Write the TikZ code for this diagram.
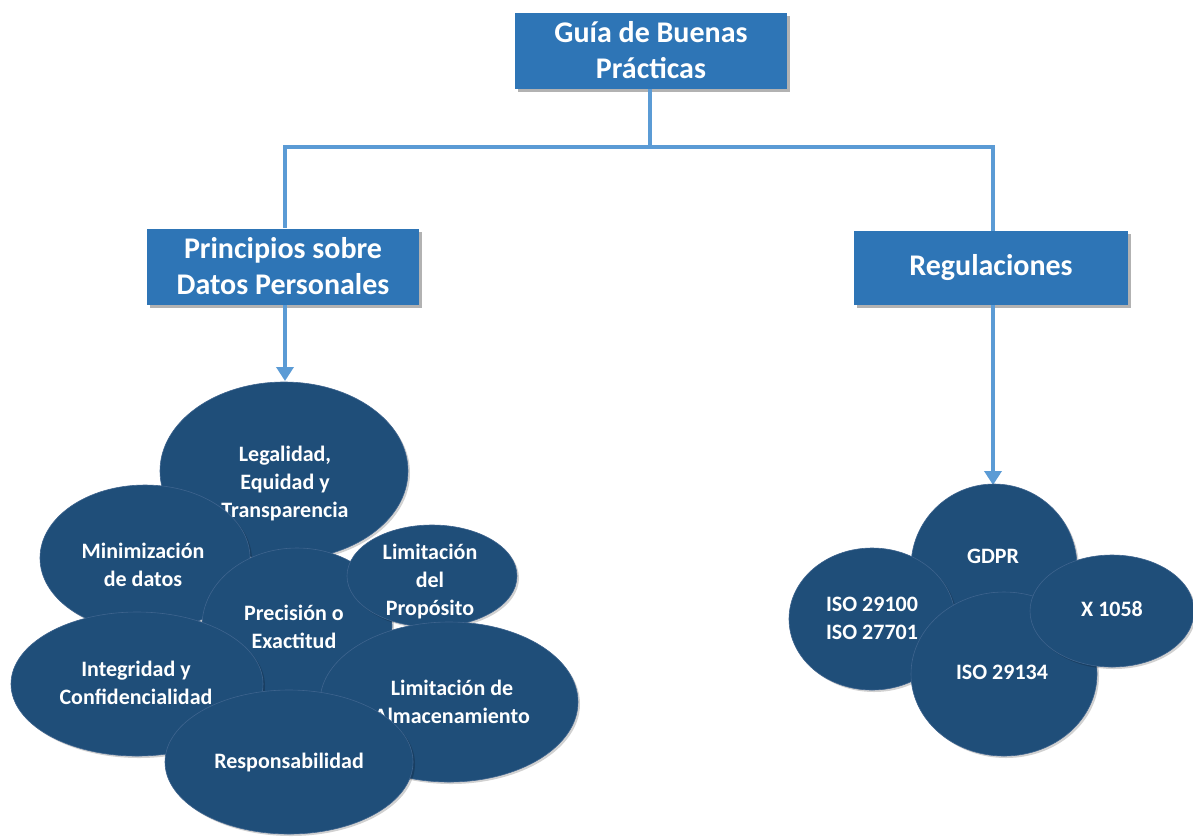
\documentclass[tikz,border=0pt]{standalone}
\usepackage{fontspec}
\setmainfont{Carlito}
\usetikzlibrary{shapes.geometric,arrows.meta,shadows}
\definecolor{boxblue}{RGB}{46,117,182}
\definecolor{linkblue}{RGB}{91,155,213}
\definecolor{navy}{RGB}{31,78,121}
\definecolor{navyedge}{RGB}{62,100,142}
\begin{document}
\begin{tikzpicture}[x=1pt,y=-1pt,
  hbox/.style={fill=boxblue, minimum width=272pt, minimum height=76pt, inner sep=0pt,
    text=white, font=\bfseries\fontsize{30}{36}\selectfont, align=center,
    drop shadow={shadow xshift=3pt, shadow yshift=-3pt, fill=black, opacity=0.3}},
  bubble/.style={ellipse, fill=navy, draw=navyedge, line width=0.6pt, inner sep=0pt,
    drop shadow={shadow xshift=2pt, shadow yshift=-2pt, fill=black, opacity=0.18}},
  btext/.style={text=white, font=\bfseries\fontsize{22}{28}\selectfont, align=center, inner sep=0pt},
  conn/.style={draw=linkblue, line width=4pt},
  arr/.style={conn, -{Triangle[width=17pt,length=14pt]}}]
\useasboundingbox (0,0) rectangle (1193,836);

% boxes
\node[hbox] (top) at (651,50.5) {Guía de Buenas\\Prácticas};
\node[hbox] (left) at (283,266.5) {Principios sobre\\Datos Personales};
\node[hbox, minimum width=274pt, minimum height=74pt] (right) at (991,268) {Regulaciones};

% connectors
\coordinate (j) at (650,147);
\coordinate (jl) at (285,147);
\coordinate (jr) at (993,147);
\coordinate (tipl) at (285,381);
\coordinate (tipr) at (993,485);
\draw[conn] (top.south -| j) -- (j);
\draw[conn, line cap=rect] (jl) -- (jr);
\draw[conn] (jl) -- (left.north -| jl);
\draw[conn] (jr) -- (right.north -| jr);
\draw[arr] (left.south -| jl) -- (tipl);
\draw[arr] (right.south -| jr) -- (tipr);

% left group
\node[bubble, minimum width=248pt, minimum height=178pt] (leg) at (284,471) {};
\node[btext] (legT) at (285,484) {Legalidad,\\Equidad y\\Transparencia};
\node[bubble, minimum width=210pt, minimum height=146pt] (min) at (145,558) {};
\node[btext] (minT) at (143,565) {Minimización\\de datos};
\node[bubble, minimum width=190pt, minimum height=156pt] (pre) at (297,626) {};
\node[btext] (preT) at (294,627) {Precisión o\\Exactitud};
\node[bubble, minimum width=170pt, minimum height=102pt] (pro) at (432,576) {};
\node[btext] (proT) at (430,581) {Limitación\\del\\Propósito};
\node[bubble, minimum width=252pt, minimum height=144pt] (int) at (137,684) {};
\node[btext] (intT) at (136,683) {Integridad y\\Confidencialidad};
\node[bubble, minimum width=258pt, minimum height=160pt] (alm) at (449,702) {};
\node[btext] (almT) at (452,702) {Limitación de\\Almacenamiento};
\node[bubble, minimum width=248pt, minimum height=144pt] (res) at (289,762) {};
\node[btext] (resT) at (289,762) {Responsabilidad};

% right group
\node[bubble, minimum width=166pt, minimum height=166pt] (gdpr) at (994,567) {};
\node[btext] (gdprT) at (993,556) {GDPR};
\node[bubble, minimum width=166pt, minimum height=142pt] (iso1) at (872,619) {};
\node[btext] (iso1T) at (872,618) {ISO 29100\\ISO 27701};
\node[bubble, minimum width=186pt, minimum height=164pt] (iso2) at (1004,674) {};
\node[btext] (iso2T) at (1002,672) {ISO 29134};
\node[bubble, minimum width=164pt, minimum height=112pt] (x) at (1112,611) {};
\node[btext] (xT) at (1112,609) {X 1058};
\end{tikzpicture}
\end{document}
